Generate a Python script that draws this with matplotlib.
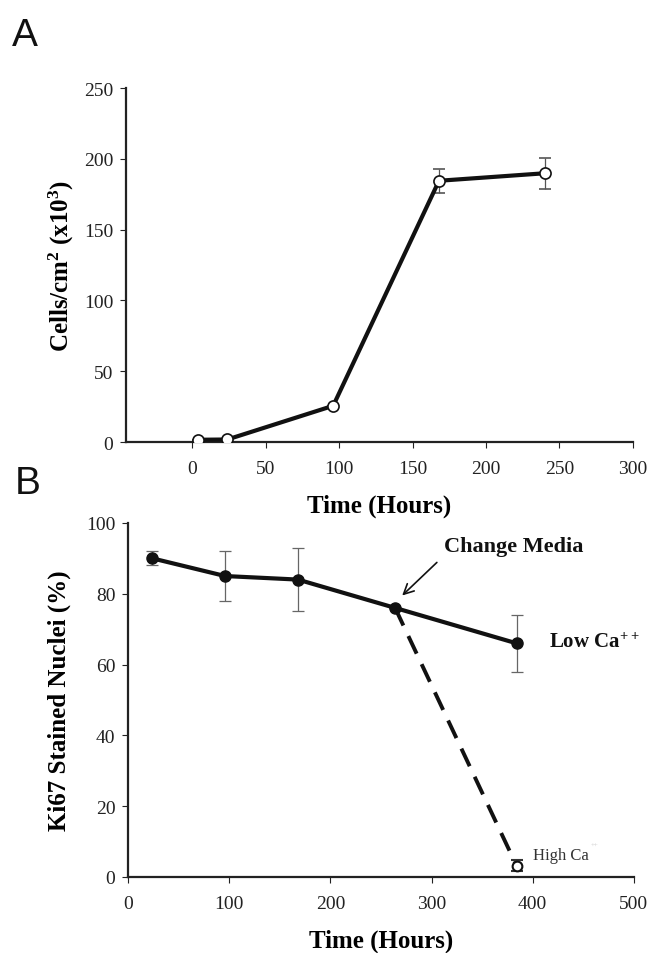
import matplotlib
matplotlib.use("Agg")
import matplotlib.pyplot as plt

# Panel A data
a_time = [4, 24, 96, 168, 240]
a_cells = [1.6, 1.8, 25.6, 184.5, 189.8]
a_err = [0, 0, 0, 8.5, 11]

# Panel B data
b_low_time = [24, 96, 168, 264, 384]
b_low_val = [90, 85, 84, 76, 66]
b_low_err = [2, 7, 9, 0, 8]
b_high_time = [264, 384]
b_high_val = [76, 3.2]
b_high_err = [0, 1.5]

a_xticks = [0, 50, 100, 150, 200, 250, 300]
a_yticks = [0, 50, 100, 150, 200, 250]
b_xticks = [0, 100, 200, 300, 400, 500]
b_yticks = [0, 20, 40, 60, 80, 100]

plt.rcParams['font.family'] = ['Liberation Serif', 'DejaVu Serif']
plt.rcParams['mathtext.fontset'] = 'custom'
plt.rcParams['mathtext.rm'] = 'Liberation Serif'
plt.rcParams['mathtext.bf'] = 'Liberation Serif:bold'

fig = plt.figure(figsize=(6.61, 9.54), dpi=100)

def style(ax):
    for s in ['top', 'right']:
        ax.spines[s].set_visible(False)
    for s in ['left', 'bottom']:
        ax.spines[s].set_linewidth(1.6)
        ax.spines[s].set_color('#222222')
    ax.tick_params(direction='out', length=4, width=0.8, colors='#222222',
                   labelsize=14, labelcolor='#222222')
    ax.tick_params(axis='x', pad=9)
    ax.tick_params(axis='y', pad=5)

# Panel A
axA = fig.add_axes([0.1906, 0.5356, 0.767, 0.3711])
style(axA)
axA.errorbar(a_time, a_cells, yerr=a_err, color='#111111', lw=3, marker='o',
             ms=8, mfc='white', mec='#111111', mew=1.2, ecolor='#555555',
             elinewidth=0.9, capsize=4, capthick=0.9, zorder=3)
axA.set_xlim(-45, 300)
axA.set_ylim(0, 250)
axA.set_xticks(a_xticks)
axA.set_yticks(a_yticks)
axA.set_xlabel('Time (Hours)', fontsize=18, fontweight='bold', labelpad=12)
axA.set_ylabel(r'Cells/cm$\mathbf{^2}$ (x10$\mathbf{^3}$)', fontsize=18,
               fontweight='bold', labelpad=6)

# Panel B
axB = fig.add_axes([0.1936, 0.0797, 0.7654, 0.3711])
style(axB)
axB.plot(b_high_time, b_high_val, color='#111111', lw=2.8, ls=(0, (5, 3)), zorder=2)
axB.errorbar(b_high_time[1:], b_high_val[1:], yerr=b_high_err[1:], fmt='o',
             ms=7, mfc='white', mec='#111111', mew=1.5, ecolor='#333333',
             elinewidth=0.9, capsize=4, capthick=1, zorder=3)
axB.errorbar(b_low_time, b_low_val, yerr=b_low_err, color='#111111', lw=3,
             marker='o', ms=8, mfc='#111111', mec='#111111', ecolor='#666666',
             elinewidth=0.9, capsize=4, capthick=0.9, zorder=4)
axB.set_xlim(0, 500)
axB.set_ylim(0, 100)
axB.set_xticks(b_xticks)
axB.set_yticks(b_yticks)
axB.set_xlabel('Time (Hours)', fontsize=18, fontweight='bold', labelpad=12)
axB.set_ylabel('Ki67 Stained Nuclei (%)', fontsize=18, fontweight='bold', labelpad=11)

axB.annotate('Change Media', xy=(271, 79.5), xytext=(312, 93.5),
             fontsize=16, fontweight='bold', color='#111111', va='center', ha='left',
             arrowprops=dict(arrowstyle='->', color='#111111', lw=1.2,
                             shrinkA=4, shrinkB=0, mutation_scale=18,
                             relpos=(0, 0)))
axB.text(416, 66.3, r'Low Ca$\mathbf{^{++}}$', fontsize=15, fontweight='bold',
         color='#111111', va='center', ha='left')
axB.text(400, 6.3, 'High Ca', fontsize=12, color='#333333', va='center', ha='left')
axB.text(457, 9.0, '++', fontsize=5, color='#cccccc', va='center', ha='left')

fig.text(0.018, 0.962, 'A', fontsize=28, family='Liberation Sans', color='#111111', va='center')
fig.text(0.022, 0.493, 'B', fontsize=28, family='Liberation Sans', color='#111111', va='center')

fig.savefig('out.png', dpi=100)
